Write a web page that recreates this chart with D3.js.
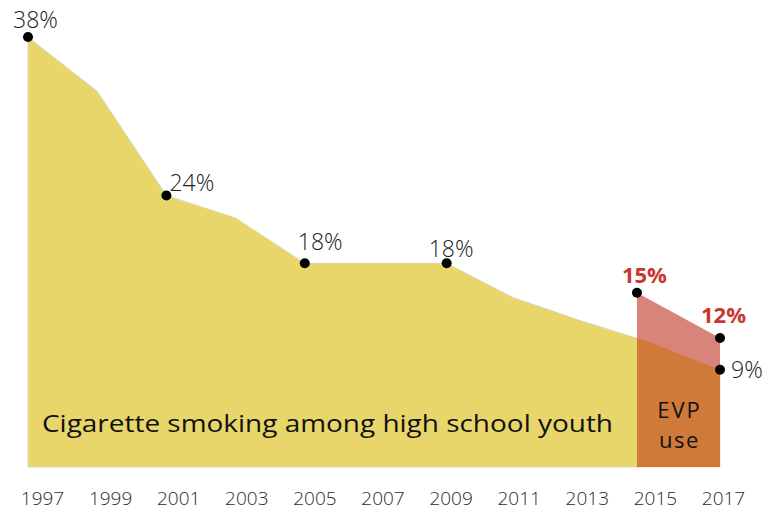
<!DOCTYPE html>
<html>
<head>
<meta charset="utf-8">
<script src="https://cdn.jsdelivr.net/npm/d3@7"></script>
<style>
  body { margin: 0; background: #fff; }
  svg text { font-family: "Open Sans", "Noto Sans", sans-serif; }
</style>
</head>
<body>
<div id="chart"></div>
<script>
// data
var cigYears  = [1997, 1999, 2001, 2003, 2005, 2007, 2009.1, 2011, 2013, 2015, 2017];
var cigValues = [38, 33.2, 24, 22, 18, 18, 18, 15, 12.9, 11, 8.6];
var evpYears  = [2014.6, 2017];
var evpValues = [15.4, 11.4];
var tickYears = [1997, 1999, 2001, 2003, 2005, 2007, 2009, 2011, 2013, 2015, 2017];

// labelled points: index into cigYears, text, offsets
var cigLabels = [
  { i: 0, text: "38%", dx: -15, dy: -9 },
  { i: 2, text: "24%", dx: 3, dy: -4 },
  { i: 4, text: "18%", dx: -7, dy: -13 },
  { i: 6, text: "18%", dx: -18, dy: -6 },
  { i: 10, text: "9%", dx: 11, dy: 8 }
];
var evpLabels = [
  { i: 0, text: "15%", dx: -15, dy: -10 },
  { i: 1, text: "12%", dx: -19, dy: -15 }
];

var svgWidth = 777, svgHeight = 510;

var x = d3.scaleLinear().domain([1997, 2017]).range([28, 720]);
var y = d3.scaleLinear().domain([0, 38]).range([467, 37]);
// tick labels sit on a slightly different grid than the data
var xTick = d3.scalePoint().domain(tickYears).range([42, 723]);

var svg = d3.select("#chart")
  .append("svg")
    .attr("width", svgWidth)
    .attr("height", svgHeight);

var cigData = cigYears.map(function(d, i) { return { year: d, v: cigValues[i] }; });
var evpData = evpYears.map(function(d, i) { return { year: d, v: evpValues[i] }; });

var area = d3.area()
  .x(function(d) { return x(d.year); })
  .y0(y(0))
  .y1(function(d) { return y(d.v); });

// cigarette area
svg.append("path")
  .datum(cigData)
  .attr("d", area)
  .attr("fill", "#e8d66a")
  .attr("stroke", "#d6d3bf")
  .attr("stroke-width", 0.8);

// EVP area (pink above the yellow)
svg.append("path")
  .datum(evpData)
  .attr("d", area)
  .attr("fill", "#d9847a");

// overlap: cigarette area clipped to EVP span, in orange
svg.append("clipPath")
  .attr("id", "evpClip")
  .append("rect")
    .attr("x", x(evpYears[0]))
    .attr("y", 0)
    .attr("width", x(evpYears[1]) - x(evpYears[0]))
    .attr("height", y(0));

svg.append("path")
  .datum(cigData)
  .attr("d", area)
  .attr("fill", "#d07a3a")
  .attr("clip-path", "url(#evpClip)");

// dots
svg.selectAll(".cigDot")
  .data(cigLabels)
  .enter().append("circle")
    .attr("class", "cigDot")
    .attr("cx", function(d) { return x(cigYears[d.i]); })
    .attr("cy", function(d) { return y(cigValues[d.i]); })
    .attr("r", 5)
    .attr("fill", "#000");

svg.selectAll(".evpDot")
  .data(evpLabels)
  .enter().append("circle")
    .attr("class", "evpDot")
    .attr("cx", function(d) { return x(evpYears[d.i]); })
    .attr("cy", function(d) { return y(evpValues[d.i]); })
    .attr("r", 5)
    .attr("fill", "#000");

// value labels
svg.selectAll(".cigLabel")
  .data(cigLabels)
  .enter().append("text")
    .attr("class", "cigLabel")
    .attr("x", function(d) { return x(cigYears[d.i]) + d.dx; })
    .attr("y", function(d) { return y(cigValues[d.i]) + d.dy; })
    .attr("font-size", 23)
    .attr("font-weight", 300)
    .attr("fill", "#222")
    .text(function(d) { return d.text; });

svg.selectAll(".evpLabel")
  .data(evpLabels)
  .enter().append("text")
    .attr("class", "evpLabel")
    .attr("x", function(d) { return x(evpYears[d.i]) + d.dx; })
    .attr("y", function(d) { return y(evpValues[d.i]) + d.dy; })
    .attr("font-size", 22)
    .attr("font-weight", 700)
    .attr("fill", "#c8372d")
    .text(function(d) { return d.text; });

// series captions
svg.append("text")
  .attr("x", 42)
  .attr("y", 432)
  .attr("font-size", 23)
  .attr("font-weight", 500)
  .attr("fill", "#111")
  .attr("textLength", 571)
  .attr("lengthAdjust", "spacingAndGlyphs")
  .text("Cigarette smoking among high school youth");

var evpMid = (x(evpYears[0]) + x(evpYears[1])) / 2 + 1;

svg.append("text")
  .attr("x", evpMid)
  .attr("y", 418)
  .attr("text-anchor", "middle")
  .attr("font-size", 22)
  .attr("font-weight", 500)
  .attr("letter-spacing", 2)
  .attr("fill", "#111")
  .text("EVP");

svg.append("text")
  .attr("x", evpMid)
  .attr("y", 448)
  .attr("text-anchor", "middle")
  .attr("font-size", 22)
  .attr("font-weight", 500)
  .attr("letter-spacing", 1.5)
  .attr("fill", "#111")
  .text("use");

// x axis labels only
var xAxis = d3.axisBottom(xTick).tickSize(0).tickPadding(0);
var gx = svg.append("g")
  .attr("transform", "translate(0,491)")
  .call(xAxis);
gx.select(".domain").remove();
gx.selectAll("text")
  .attr("font-size", 19)
  .attr("font-weight", 300)
  .attr("fill", "#2a2a2a")
  .style("font-family", "'Open Sans', 'Noto Sans', sans-serif");
</script>
</body>
</html>
